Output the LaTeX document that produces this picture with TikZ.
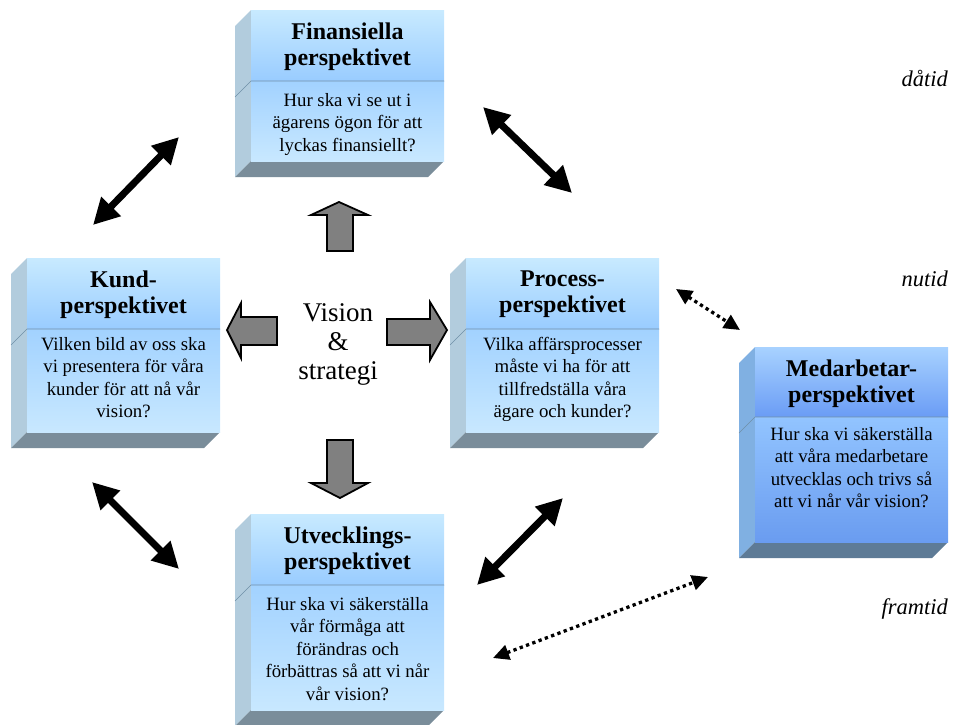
\documentclass[tikz,border=0pt]{standalone}
\usepackage{fontspec}
\setmainfont{Liberation Serif}
\usetikzlibrary{arrows.meta}
\definecolor{lhtop}{HTML}{C8EAFF}
\definecolor{lhbot}{HTML}{99CCFF}
\definecolor{lbtop}{HTML}{A2D2FF}
\definecolor{lbbot}{HTML}{C8E8FF}
\definecolor{lside}{HTML}{B2CCDD}
\definecolor{lbase}{HTML}{7A8D9A}
\definecolor{dhtop}{HTML}{A8D2FF}
\definecolor{dhbot}{HTML}{6A9CF5}
\definecolor{dbtop}{HTML}{92C4FF}
\definecolor{dbbot}{HTML}{6A9CF0}
\definecolor{dside}{HTML}{80B0E2}
\definecolor{dbase}{HTML}{5E7B96}
\definecolor{divline}{HTML}{7090A8}
\definecolor{arrowgray}{HTML}{808080}
\tikzset{
  headtext/.style={font=\fontsize{24}{25.5}\selectfont\bfseries, align=center, anchor=north, inner sep=0pt},
  bodytext/.style={font=\fontsize{18.8}{22.5}\selectfont, align=center, anchor=north, inner sep=0pt},
  timetext/.style={font=\fontsize{22.5}{26}\selectfont\itshape, anchor=base east, inner sep=0pt},
  blockarrow/.style={fill=arrowgray, draw=black, line width=1.8pt, line join=miter},
  thickarrow/.style={line width=7pt, {Triangle[length=26pt,width=26pt]}-{Triangle[length=26pt,width=26pt]}},
  dotarrow/.style={line width=3.3pt, dash pattern=on 3.3pt off 3.4pt, {Triangle[length=16pt,width=15pt]}-{Triangle[length=16pt,width=15pt]}}
}
% #1 name, #2 x left, #3 y top, #4 y divider, #5 y bottom, #6 colour prefix, #7 heading, #8 body, #9 body offset
\newcommand\perspbox[9]{%
  \fill[#6side] (#2,#3) -- ({#2-16},{#3+16}) -- ({#2-16},{#5+16}) -- (#2,#5) -- cycle;
  \fill[#6base] (#2,#5) -- ({#2+193},#5) -- ({#2+177},{#5+16}) -- ({#2-16},{#5+16}) -- cycle;
  \shade[top color=#6htop,bottom color=#6hbot] (#2,#3) rectangle ({#2+193},#4);
  \shade[top color=#6btop,bottom color=#6bbot] (#2,#4) rectangle ({#2+193},#5);
  \draw[divline, line width=0.6pt] ({#2-16},{#4+16}) -- (#2,#4) -- ({#2+193},#4);
  \node[headtext] (#1h) at ({#2+96.5},{#3+13}) {#7};
  \node[bodytext] (#1) at ({#2+96.5},{#4+#9}) {#8};
}
\begin{document}
\begin{tikzpicture}[x=1pt,y=-1pt]
\useasboundingbox (0,0) rectangle (953,724);

\perspbox{fin}{251}{10}{81}{161}{l}{Finansiella\\perspektivet}{Hur ska vi se ut i\\ägarens ögon för att\\lyckas finansiellt?}{12}
\perspbox{kund}{27}{258}{329}{432}{l}{Kund-\\perspektivet}{Vilken bild av oss ska\\vi presentera för våra\\kunder för att nå vår\\vision?}{8}
\perspbox{proc}{466}{258}{329}{432}{l}{Process-\\perspektivet}{Vilka affärsprocesser\\måste vi ha för att\\tillfredställa våra\\ägare och kunder?}{8}
\perspbox{med}{755}{347}{417}{542}{d}{Medarbetar-\\perspektivet}{Hur ska vi säkerställa\\att våra medarbetare\\utvecklas och trivs så\\att vi når vår vision?}{10}
\perspbox{utv}{251}{514}{585}{710}{l}{Utvecklings-\\perspektivet}{Hur ska vi säkerställa\\vår förmåga att\\förändras och\\förbättras så att vi når\\vår vision?}{12}

\node[font=\fontsize{27}{29}\selectfont, align=center, inner sep=0pt] (vision) at (338,344.5) {Vision\\\&\\strategi};

% grey block arrows
\draw[blockarrow] (339,202) -- (368,215) -- (353,215) -- (353,251) -- (327,251) -- (327,215) -- (311,215) -- cycle;
\draw[blockarrow] (340,498) -- (368,483) -- (353,483) -- (353,440) -- (327,440) -- (327,483) -- (311,483) -- cycle;
\draw[blockarrow] (227,330) -- (241,303) -- (241,317) -- (277,317) -- (277,345) -- (241,345) -- (241,358) -- cycle;
\draw[blockarrow] (447,330) -- (430,302) -- (430,319) -- (387,319) -- (387,345) -- (430,345) -- (430,360) -- cycle;

% endpoints of connectors
\coordinate (a1s) at (93,225);  \coordinate (a1e) at (179,137);
\coordinate (a2s) at (483,107); \coordinate (a2e) at (572,193);
\coordinate (a3s) at (92,482);  \coordinate (a3e) at (179,569);
\coordinate (a4s) at (477,585); \coordinate (a4e) at (563,498);
\coordinate (d1s) at (676,289); \coordinate (d1e) at (740,330);
\coordinate (d2s) at (493,658); \coordinate (d2e) at (708,577);

\draw[thickarrow] (a1s) -- (a1e);
\draw[thickarrow] (a2s) -- (a2e);
\draw[thickarrow] (a3s) -- (a3e);
\draw[thickarrow] (a4s) -- (a4e);
\draw[dotarrow] (d1s) -- (d1e);
\draw[dotarrow] (d2s) -- (d2e);

\node[timetext] (datid) at (948,86) {dåtid};
\node[timetext] (nutid) at (948,286) {nutid};
\node[timetext] (framtid) at (948,614) {framtid};
\end{tikzpicture}
\end{document}
